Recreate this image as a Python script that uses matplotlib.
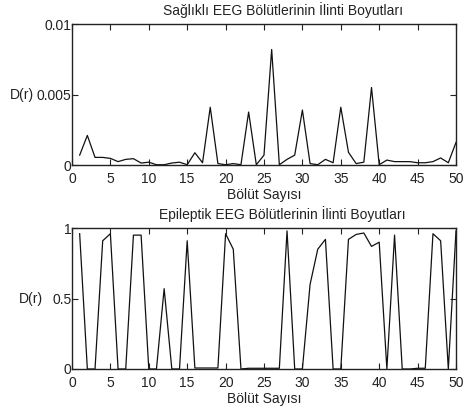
import matplotlib
matplotlib.use("Agg")
import matplotlib.pyplot as plt
import numpy as np

plt.rcParams['font.family'] = ['Liberation Sans', 'DejaVu Sans']

segments = list(range(1, 51))
healthy = [0.0007, 0.0021, 0.00054, 0.00054, 0.00047, 0.00024, 0.0004, 0.00045, 0.00014, 0.0002,
           0.00002, 0.00002, 0.00014, 0.0002, 0.00002, 0.00087, 0.00016, 0.0041, 0.0001, 0.00002,
           0.0001, 0.00002, 0.00376, 0.00002, 0.0007, 0.0082, 0.00002, 0.0004, 0.0007, 0.0039,
           0.0001, 0.00002, 0.0004, 0.00016, 0.0041, 0.0009, 0.0001, 0.0002, 0.0055, 0.00002,
           0.00035, 0.00024, 0.00024, 0.00024, 0.00016, 0.00016, 0.00024, 0.0005, 0.00016, 0.0016]
epileptic = [0.96, 0.0, 0.0, 0.91, 0.96, 0.0, 0.0, 0.95, 0.95, 0.0,
             0.0, 0.57, 0.0, 0.0, 0.91, 0.007, 0.007, 0.007, 0.007, 0.96,
             0.85, 0.0, 0.005, 0.005, 0.005, 0.005, 0.005, 0.98, 0.0, 0.0,
             0.6, 0.85, 0.92, 0.0, 0.0, 0.92, 0.955, 0.965, 0.87, 0.9,
             0.0, 0.95, 0.0, 0.0, 0.005, 0.005, 0.96, 0.91, 0.0, 0.98]

titles = ["Sağlıklı EEG Bölütlerinin İlinti Boyutları",
          "Epileptik EEG Bölütlerinin İlinti Boyutları"]
xlabel = "Bölüt Sayısı"
ylabel = "D(r)"
xticks = [0, 5, 10, 15, 20, 25, 30, 35, 40, 45, 50]
yticks_top = [0, 0.005, 0.01]
yticklabels_top = ["0", "0.005", "0.01"]
yticks_bot = [0, 0.5, 1]
yticklabels_bot = ["0", "0.5", "1"]

fig = plt.figure(figsize=(4.72, 4.12), dpi=100)
ax1 = fig.add_axes([0.1525, 0.5995, 0.8136, 0.342])
ax2 = fig.add_axes([0.1525, 0.1044, 0.8136, 0.342])

fs = 10
for ax, data, title, yt, ytl, ylim, ylx in [
        (ax1, healthy, titles[0], yticks_top, yticklabels_top, (0, 0.01), -0.098),
        (ax2, epileptic, titles[1], yticks_bot, yticklabels_bot, (0, 1), -0.0755)]:
    ax.plot(segments, data, color='#111111', linewidth=0.9)
    ax.set_xlim(0, 50)
    ax.set_ylim(*ylim)
    ax.set_xticks(xticks)
    ax.set_yticks(yt)
    ax.set_yticklabels(ytl)
    ax.tick_params(direction='in', top=True, right=True, labelsize=fs, length=4,
                   width=0.8, colors='#222222')
    ax.tick_params(axis='x', pad=5)
    ax.tick_params(axis='y', pad=0.5)
    for s in ax.spines.values():
        s.set_linewidth(1.0)
        s.set_color('#222222')
    ax.set_title(title, fontsize=fs, x=0.549, pad=6.5, color='#222222')
    ax.set_xlabel(xlabel, fontsize=fs, labelpad=1.5, color='#222222')
    ax.set_ylabel(ylabel, fontsize=fs, rotation=0, va='center', ha='right', color='#222222')
    ax.yaxis.set_label_coords(ylx, 0.5)

fig.savefig("out.png", dpi=100)
